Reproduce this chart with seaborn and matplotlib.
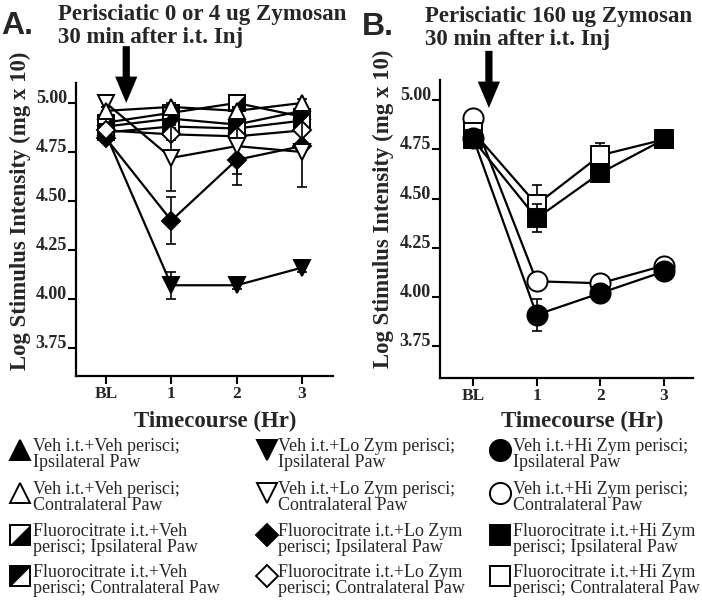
import matplotlib
matplotlib.use("Agg")
import matplotlib.pyplot as plt
from matplotlib.lines import Line2D
import seaborn as sns

# x positions and labels shared by both panels
TIMEPOINTS = [0, 1, 2, 3]
TICK_LABELS = ["BL", "1", "2", "3"]
Y_TICKS = [3.75, 4.00, 4.25, 4.50, 4.75, 5.00]

# Panel A: perisciatic 0 or 4 ug zymosan (means, log mg x 10)
veh_veh_ipsi = [4.88, 4.92, 4.89, 4.96]
veh_veh_contra = [4.96, 4.98, 4.96, 5.00]
fluo_veh_ipsi = [4.90, 4.95, 5.00, 4.93]
fluo_veh_contra = [4.85, 4.88, 4.87, 4.91]
veh_lo_ipsi = [4.84, 4.07, 4.07, 4.16]
veh_lo_contra = [5.00, 4.72, 4.78, 4.75]
fluo_lo_ipsi = [4.82, 4.40, 4.71, 4.78]
fluo_lo_contra = [4.86, 4.84, 4.83, 4.86]

# Panel A: SEM
sem_veh_veh_ipsi = [0.02, 0.02, 0.02, 0.02]
sem_veh_veh_contra = [0.02, 0.02, 0.02, 0.02]
sem_fluo_veh_ipsi = [0.02, 0.02, 0.02, 0.02]
sem_fluo_veh_contra = [0.02, 0.02, 0.02, 0.02]
sem_veh_lo_ipsi = [0.02, 0.07, 0.02, 0.02]
sem_veh_lo_contra = [0.02, 0.17, 0.20, 0.18]
sem_fluo_lo_ipsi = [0.02, 0.12, 0.07, 0.02]
sem_fluo_lo_contra = [0.02, 0.03, 0.02, 0.02]

# Panel B: perisciatic 160 ug zymosan
veh_hi_ipsi = [4.81, 3.91, 4.02, 4.13]
veh_hi_contra = [4.91, 4.08, 4.07, 4.16]
fluo_hi_ipsi = [4.80, 4.40, 4.63, 4.80]
fluo_hi_contra = [4.84, 4.47, 4.72, 4.80]

sem_veh_hi_ipsi = [0.02, 0.08, 0.02, 0.02]
sem_veh_hi_contra = [0.02, 0.02, 0.02, 0.02]
sem_fluo_hi_ipsi = [0.02, 0.07, 0.02, 0.02]
sem_fluo_hi_contra = [0.02, 0.10, 0.06, 0.02]

LABELS_A = [
    "Veh i.t.+Veh perisci;\nIpsilateral Paw",
    "Veh i.t.+Veh perisci;\nContralateral Paw",
    "Fluorocitrate i.t.+Veh\nperisci; Ipsilateral Paw",
    "Fluorocitrate i.t.+Veh\nperisci; Contralateral Paw",
    "Veh i.t.+Lo Zym perisci;\nIpsilateral Paw",
    "Veh i.t.+Lo Zym perisci;\nContralateral Paw",
    "Fluorocitrate i.t.+Lo Zym\nperisci; Ipsilateral Paw",
    "Fluorocitrate i.t.+Lo Zym\nperisci; Contralateral Paw",
]
LABELS_B = [
    "Veh i.t.+Hi Zym perisci;\nIpsilateral Paw",
    "Veh i.t.+Hi Zym perisci;\nContralateral Paw",
    "Fluorocitrate i.t.+Hi Zym\nperisci; Ipsilateral Paw",
    "Fluorocitrate i.t.+Hi Zym\nperisci; Contralateral Paw",
]

# half-filled square overlays (black half)
LOWER_RIGHT = [(-1, -1), (1, -1), (1, 1), (-1, -1)]
UPPER_LEFT = [(-1, -1), (-1, 1), (1, 1), (-1, -1)]

# style per series: marker, face colour, size, overlay
STYLES_A = [
    ("^", "black", 12, None),
    ("^", "white", 12, None),
    ("s", "white", 11, LOWER_RIGHT),
    ("s", "white", 11, UPPER_LEFT),
    ("v", "black", 12, None),
    ("v", "white", 12, None),
    ("D", "black", 9, None),
    ("D", "white", 9, None),
]
STYLES_B = [
    ("o", "black", 14.5, None),
    ("o", "white", 14.5, None),
    ("s", "black", 13.5, None),
    ("s", "white", 13.5, None),
]

W, H = 702, 607
SERIF = ["Liberation Serif", "DejaVu Serif"]


def fx(px):
    return px / W


def fy(py):
    return 1 - py / H


def draw_series(ax, values, sem, style, order):
    marker, face, size, overlay = style
    ax.errorbar(TIMEPOINTS, values, yerr=sem, fmt="none", ecolor="black",
                elinewidth=1.2, capsize=3.5, capthick=1.2, zorder=order)
    sns.lineplot(x=TIMEPOINTS, y=values, ax=ax, color="black", linewidth=1.6,
                 marker=marker, markersize=size, markerfacecolor=face,
                 markeredgecolor="black", markeredgewidth=1.4, zorder=order + 0.5)
    if overlay is not None:
        ax.plot(TIMEPOINTS, values, linestyle="none", marker=overlay,
                markersize=size, markerfacecolor="black",
                markeredgecolor="black", markeredgewidth=0.5, zorder=order + 0.6)


def legend_entry(fig, x_marker, x_text, y_line1, label, style, scale=1.25):
    marker, face, size, overlay = style
    fig.add_artist(Line2D([fx(x_marker)], [fy(y_line1 + 3)], transform=fig.transFigure,
                          marker=marker, markersize=size * scale, markerfacecolor=face,
                          markeredgecolor="black", markeredgewidth=1.4, linestyle="none"))
    if overlay is not None:
        fig.add_artist(Line2D([fx(x_marker)], [fy(y_line1 + 3)], transform=fig.transFigure,
                              marker=overlay, markersize=size * scale,
                              markerfacecolor="black", markeredgecolor="black",
                              markeredgewidth=0.5, linestyle="none"))
    fig.text(fx(x_text), fy(y_line1 + 7.5), label, fontsize=13, family=SERIF,
             va="center", ha="left", linespacing=0.95)


def style_axes(ax, xlim, ylim):
    ax.set_xlim(*xlim)
    ax.set_ylim(*ylim)
    ax.set_xticks(TIMEPOINTS)
    ax.set_xticklabels(TICK_LABELS, fontsize=12.5, fontweight="bold", family=SERIF)
    ax.set_yticks(Y_TICKS)
    ax.set_yticklabels([f"{v:.2f}" for v in Y_TICKS], fontsize=13,
                       fontweight="bold", family=SERIF, va="baseline")
    ax.tick_params(axis="both", direction="out", length=6, width=1.5, color="black")
    ax.tick_params(axis="y", pad=0.5)
    ax.tick_params(axis="x", pad=1.5)
    for side in ("left", "bottom"):
        ax.spines[side].set_linewidth(1.6)
        ax.spines[side].set_color("black")
    sns.despine(ax=ax)
    ax.set_xlabel("")
    ax.set_ylabel("")
    ax.grid(False)


def add_arrow(ax, x, y_tip, y_tail):
    ax.annotate("", xy=(x, y_tip), xytext=(x, y_tail), annotation_clip=False,
                arrowprops=dict(arrowstyle="simple,head_length=0.95,head_width=0.8,tail_width=0.26",
                                mutation_scale=20, fc="black", ec="black", lw=0,
                                shrinkA=0, shrinkB=0))


def main():
    sns.set_theme(style="ticks")
    plt.rcParams["font.family"] = SERIF

    fig = plt.figure(figsize=(W / 100, H / 100), dpi=100)
    fig.patch.set_facecolor("white")

    ax_a = fig.add_axes([fx(76), fy(376), fx(333 - 76), (376 - 83) / H])
    ax_b = fig.add_axes([fx(440), fy(378), fx(693 - 440), (378 - 80) / H])
    for ax in (ax_a, ax_b):
        ax.set_facecolor("white")

    series_a = [veh_veh_ipsi, veh_veh_contra, fluo_veh_ipsi, fluo_veh_contra,
                veh_lo_ipsi, veh_lo_contra, fluo_lo_ipsi, fluo_lo_contra]
    sems_a = [sem_veh_veh_ipsi, sem_veh_veh_contra, sem_fluo_veh_ipsi, sem_fluo_veh_contra,
              sem_veh_lo_ipsi, sem_veh_lo_contra, sem_fluo_lo_ipsi, sem_fluo_lo_contra]
    # filled symbols first, open ones on top
    order_a = [0, 2, 3, 4, 6, 7, 5, 1]
    for z, i in enumerate(order_a):
        draw_series(ax_a, series_a[i], sems_a[i], STYLES_A[i], 2 + z)

    series_b = [veh_hi_ipsi, veh_hi_contra, fluo_hi_ipsi, fluo_hi_contra]
    sems_b = [sem_veh_hi_ipsi, sem_veh_hi_contra, sem_fluo_hi_ipsi, sem_fluo_hi_contra]
    order_b = [1, 3, 0, 2]
    for z, i in enumerate(order_b):
        draw_series(ax_b, series_b[i], sems_b[i], STYLES_B[i], 2 + z)

    style_axes(ax_a, (-0.459, 3.474), (3.607, 5.102))
    style_axes(ax_b, (-0.518, 3.455), (3.589, 5.102))

    add_arrow(ax_a, 0.31, 5.00, 5.29)
    add_arrow(ax_b, 0.25, 4.96, 5.25)

    # panel letters and titles
    fig.text(fx(1), fy(34), "A.", fontsize=23, fontweight="bold",
             family=["Liberation Sans", "DejaVu Sans"], va="baseline")
    fig.text(fx(58), fy(20), "Perisciatic 0 or 4 ug Zymosan", fontsize=16.5,
             fontweight="bold", family=SERIF, va="baseline")
    fig.text(fx(58), fy(43), "30 min after i.t. Inj", fontsize=16.5,
             fontweight="bold", family=SERIF, va="baseline")
    fig.text(fx(362), fy(35), "B.", fontsize=23, fontweight="bold",
             family=["Liberation Sans", "DejaVu Sans"], va="baseline")
    fig.text(fx(425), fy(22), "Perisciatic 160 ug Zymosan", fontsize=16.5,
             fontweight="bold", family=SERIF, va="baseline")
    fig.text(fx(425), fy(45), "30 min after i.t. Inj", fontsize=16.5,
             fontweight="bold", family=SERIF, va="baseline")

    # axis labels
    ylab = "Log Stimulus Intensity (mg x 10)"
    fig.text(fx(20), fy(211), ylab, rotation=90, fontsize=16.4, fontweight="bold",
             family=SERIF, ha="center", va="center")
    fig.text(fx(383), fy(209), ylab, rotation=90, fontsize=16.4, fontweight="bold",
             family=SERIF, ha="center", va="center")
    fig.text(fx(215), fy(421), "Timecourse (Hr)", fontsize=16.5, fontweight="bold",
             family=SERIF, ha="center", va="center")
    fig.text(fx(582), fy(421), "Timecourse (Hr)", fontsize=16.5, fontweight="bold",
             family=SERIF, ha="center", va="center")

    # legend, three columns
    rows = [447, 490, 532, 573]
    for k in range(4):
        legend_entry(fig, 20, 33, rows[k], LABELS_A[k], STYLES_A[k])
        legend_entry(fig, 267, 278, rows[k], LABELS_A[k + 4], STYLES_A[k + 4])
        legend_entry(fig, 500, 513, rows[k], LABELS_B[k], STYLES_B[k], scale=1.05)

    fig.savefig("out.png", dpi=100, facecolor="white")
    plt.close(fig)


if __name__ == "__main__":
    main()
